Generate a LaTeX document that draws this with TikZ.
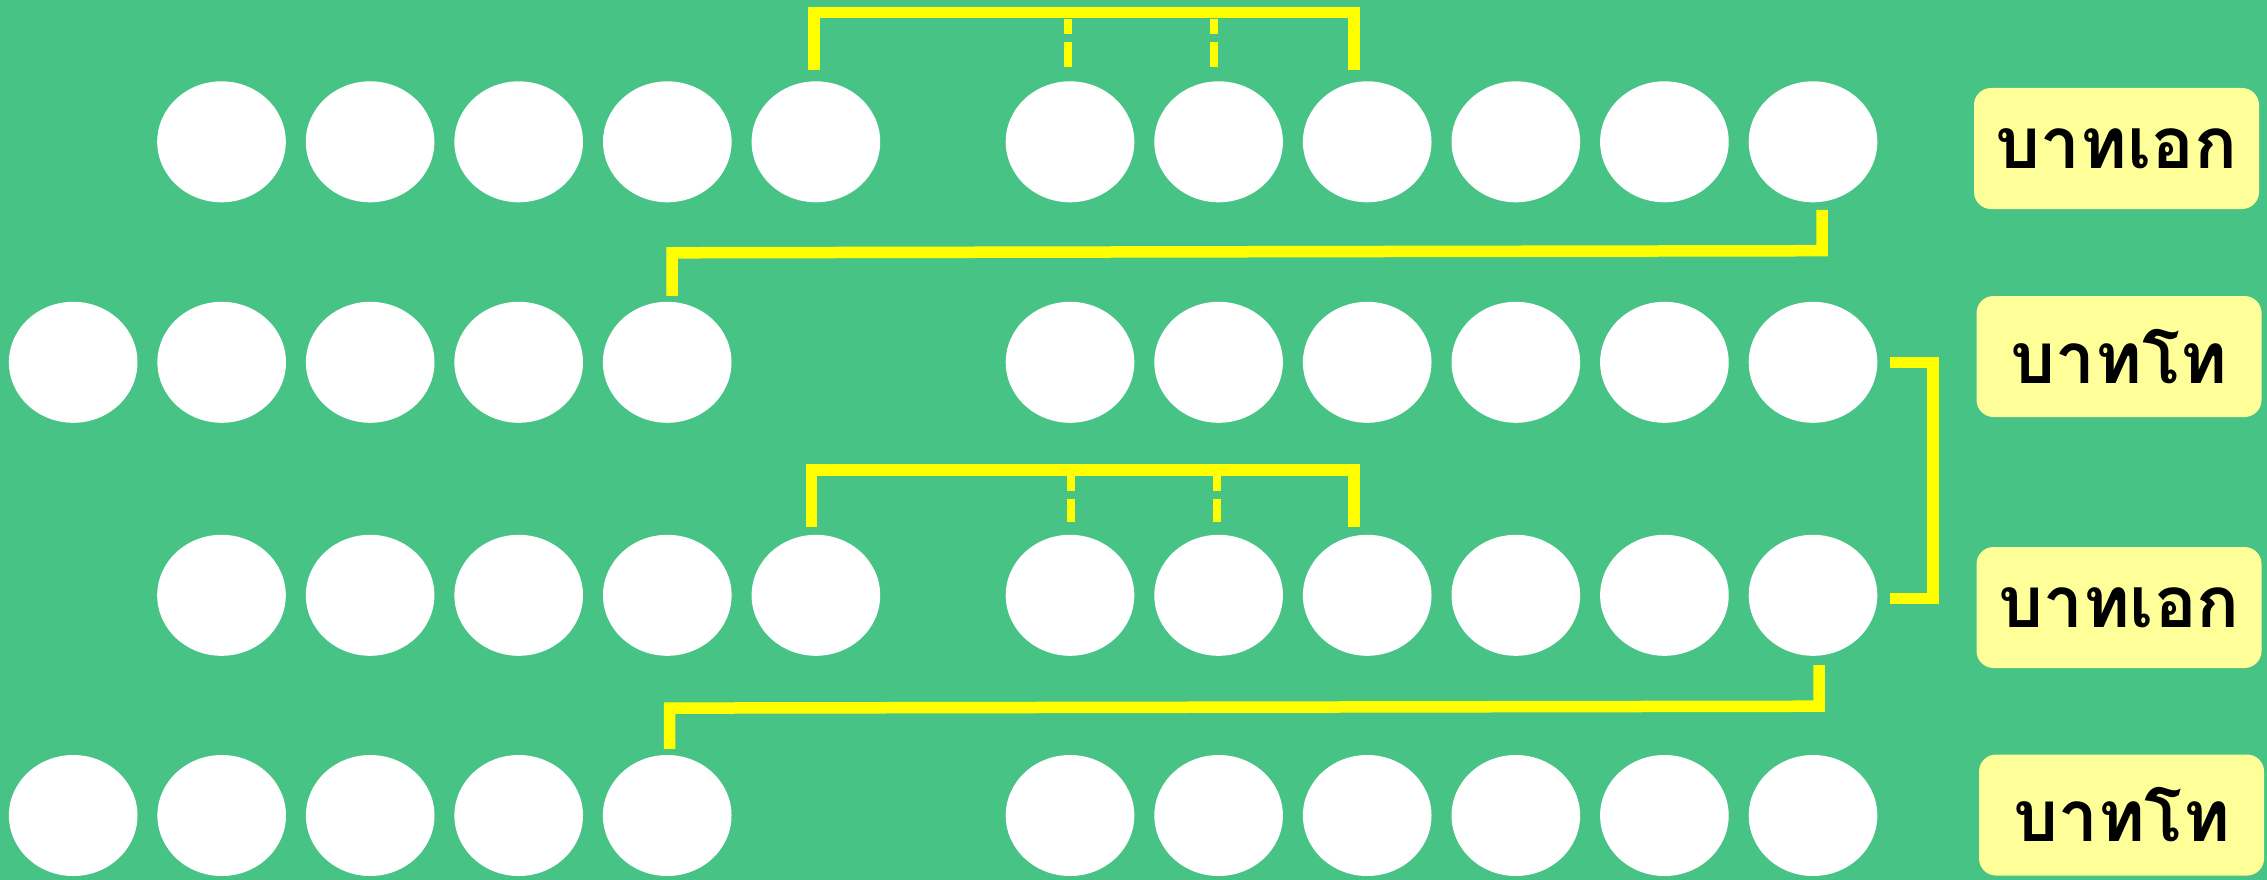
\documentclass[tikz,border=0pt]{standalone}
\usepackage{fontspec}
\newfontfamily\thaifont[Script=Thai]{Loma}
\usetikzlibrary{shapes.geometric,calc}
\definecolor{bggreen}{RGB}{72,195,134}
\definecolor{lineyellow}{RGB}{255,255,0}
\definecolor{labelfill}{RGB}{255,255,153}
\tikzset{
  egg/.style={ellipse,fill=white,draw=none,minimum width=128.6pt,minimum height=121pt,inner sep=0pt},
  conn/.style={draw=lineyellow,line width=11.5pt,line join=miter,line cap=butt},
  dconn/.style={draw=lineyellow,line width=8pt,line cap=butt,dash pattern=on 15pt off 8pt on 25pt off 100pt},
  lbl/.style={rectangle,rounded corners=17pt,fill=labelfill,draw=none,minimum width=285pt,minimum height=121pt,inner sep=0pt,font=\thaifont\bfseries\fontsize{71}{80}\selectfont,text=black}
}
\begin{document}
\begin{tikzpicture}[x=1pt,y=-1pt]
\useasboundingbox (0,0) rectangle (2267,880);
\fill[bggreen] (0,0) rectangle (2267,880);
% rows 1 and 3: left group starts at 221.5
\foreach \r/\y in {1/141.8,3/595.3}{
  \foreach \c in {1,...,5}{
    \node[egg] (r\r c\c) at ({221.5+148.6*(\c-1)},\y) {};
  }
}
% rows 2 and 4: left group starts at 73.2
\foreach \r/\y in {2/362.3,4/815.5}{
  \foreach \c in {1,...,5}{
    \node[egg] (r\r c\c) at ({73.2+148.5*(\c-1)},\y) {};
  }
}
% right groups
\foreach \r/\y in {1/141.8,2/362.3,3/595.3,4/815.5}{
  \foreach \c in {6,...,11}{
    \node[egg] (r\r c\c) at ({1070+148.6*(\c-6)},\y) {};
  }
}
% labels
\node[lbl] (l1) at (2116.5,148.5) {บาทเอก};
\node[lbl] (l2) at (2119,356.5) {บาทโท};
\node[lbl] (l3) at (2119,607.5) {บาทเอก};
\node[lbl] (l4) at (2121.5,815) {บาทโท};
% row 1 bracket
\draw[conn] ($(r1c5.north)+(-2,-10.6)$) |- ($(r1c8.north)+(-13,-68.6)$) -- ($(r1c8.north)+(-13,-10.6)$);
\draw[dconn] ($(r1c6.north)+(-2,-62.3)$) -- ($(r1c6.north)+(-2,-13.5)$);
\draw[dconn] ($(r1c7.north)+(-4.6,-62.3)$) -- ($(r1c7.north)+(-4.6,-13.5)$);
% row 3 bracket
\draw[conn] ($(r3c5.north)+(-4.6,-7.5)$) |- ($(r3c8.north)+(-13,-64.8)$) -- ($(r3c8.north)+(-13,-7.5)$);
\draw[dconn] ($(r3c6.north)+(0.5,-59.1)$) -- ($(r3c6.north)+(0.5,-12.3)$);
\draw[dconn] ($(r3c7.north)+(-1.6,-59.1)$) -- ($(r3c7.north)+(-1.6,-12.3)$);
% row 1 -> row 2
\draw[conn] ($(r1c11.south)+(9,7.4)$) -- ($(r1c11.south)+(9,48.2)$) -- ($(r2c5.north)+(4.8,-48.8)$) -- ($(r2c5.north)+(4.8,-5.8)$);
% row 3 -> row 4
\draw[conn] ($(r3c11.south)+(6,9.2)$) -- ($(r3c11.south)+(6,50.2)$) -- ($(r4c5.north)+(2.5,-46.7)$) -- ($(r4c5.north)+(2.5,-6)$);
% right bracket row 2 - row 3
\draw[conn] ($(r2c11.east)+(12,0)$) -| ($(r3c11.east)+(55.7,3.4)$) -- ($(r3c11.east)+(12,3.4)$);
\end{tikzpicture}
\end{document}
